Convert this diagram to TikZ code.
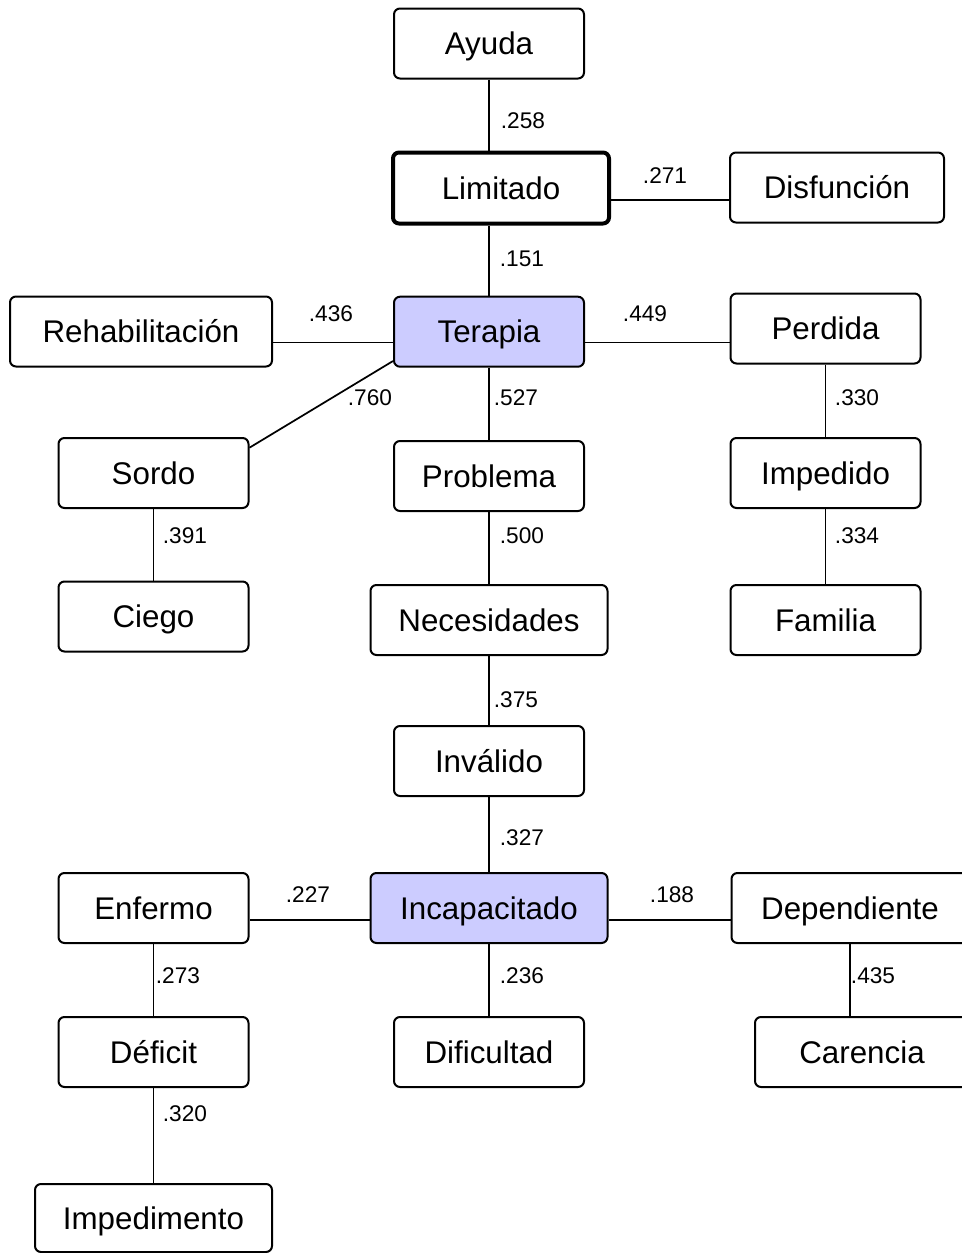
\documentclass[tikz,border=0pt]{standalone}
\usepackage{fontspec}
\setmainfont{Liberation Sans}
\usetikzlibrary{positioning,calc}
\definecolor{hubfill}{HTML}{CCCCFF}

\begin{document}
\begin{tikzpicture}[x=0.75pt,y=-0.75pt,
  term/.style={draw,rounded corners=4.5pt,line width=1.5pt,inner sep=0pt,
    minimum width=142.5pt,minimum height=52.5pt,
    font=\fontsize{23.5}{26}\selectfont,text height=16.8pt,text depth=0pt},
  wide/.style={term,minimum width=177.75pt},
  hub/.style={fill=hubfill},
  weight/.style={inner sep=0pt,font=\fontsize{17}{19}\selectfont,text height=12.2pt,text depth=0pt},
  link/.style={line width=1.3pt}]
\useasboundingbox (0,0) rectangle (961,1253);
% words
\node[term] (ayuda) at (489,43.5) {Ayuda};
\node[term,line width=3pt,minimum width=162pt,minimum height=53.25pt] (limitado) at (501,188) {Limitado};
\node[term,minimum width=160.5pt] (disfuncion) at (837,187.5) {Disfunción};
\node[term,minimum width=196.5pt] (rehab) at (141,331.5) {Rehabilitación};
\node[term,hub] (terapia) at (489,331.7) {Terapia};
\node[term] (perdida) at (825.5,328.5) {Perdida};
\node[term] (sordo) at (153.5,473) {Sordo};
\node[term] (problema) at (489,476) {Problema};
\node[term] (impedido) at (825.5,473) {Impedido};
\node[term] (ciego) at (153.5,616.5) {Ciego};
\node[wide] (necesidades) at (489,620) {Necesidades};
\node[term] (familia) at (825.5,620) {Familia};
\node[term] (invalido) at (489,761) {Inválido};
\node[term] (enfermo) at (153.5,908) {Enfermo};
\node[wide,hub] (incapacitado) at (489,908) {Incapacitado};
\node[wide] (dependiente) at (850,908) {Dependiente};
\node[term] (deficit) at (153.5,1052) {Déficit};
\node[term] (dificultad) at (489,1052) {Dificultad};
\node[term,minimum width=160.5pt] (carencia) at (862,1052) {Carencia};
\node[wide,minimum height=51pt] (impedimento) at (153.5,1218) {Impedimento};
% links
\draw[link] (ayuda.south) -- (ayuda.south |- limitado.north);
\draw[link] (terapia.north) -- (terapia.north |- limitado.south);
\draw[link] ([yshift=-9pt]limitado.east) -- ([yshift=-9pt]limitado.east -| disfuncion.west);
\draw[link] ([yshift=-8pt]terapia.west) -- ([yshift=-8pt]terapia.west -| rehab.east);
\draw[link] ([yshift=-8pt]terapia.east) -- ([yshift=-8pt]terapia.east -| perdida.west);
\draw[link] ([yshift=-8pt]sordo.north east) -- ([yshift=5pt]terapia.south west);
\draw[link] ([yshift=-9pt]incapacitado.west) -- ([yshift=-9pt]incapacitado.west -| enfermo.east);
\draw[link] ([yshift=-9pt]incapacitado.east) -- ([yshift=-9pt]incapacitado.east -| dependiente.west);
\draw[link] (dependiente.south) -- (dependiente.south |- carencia.north);
\path[link]
(terapia) edge (problema)
(problema) edge (necesidades)
(necesidades) edge (invalido)
(invalido) edge (incapacitado)
(incapacitado) edge (dificultad)
(perdida) edge (impedido)
(impedido) edge (familia)
(sordo) edge (ciego)
(enfermo) edge (deficit)
(deficit) edge (impedimento)
;
% weights
\node[weight] (w-ayuda) at (523,120) {.258};
\node[weight] (w-disfuncion) at (665,175) {.271};
\node[weight] (w-limitado) at (522,258) {.151};
\node[weight] (w-rehab) at (331,313) {.436};
\node[weight] (w-perdida) at (645,313) {.449};
\node[weight] (w-sordo) at (370,397) {.760};
\node[weight] (w-problema) at (516,397) {.527};
\node[weight] (w-impedido) at (857,397) {.330};
\node[weight] (w-ciego) at (185,535) {.391};
\node[weight] (w-necesidades) at (522,535) {.500};
\node[weight] (w-familia) at (857,535) {.334};
\node[weight] (w-invalido) at (516,699) {.375};
\node[weight] (w-incapacitado) at (522,837) {.327};
\node[weight] (w-enfermo) at (308,894) {.227};
\node[weight] (w-dependiente) at (672,894) {.188};
\node[weight] (w-deficit) at (178,975) {.273};
\node[weight] (w-dificultad) at (522,975) {.236};
\node[weight] (w-carencia) at (873,975) {.435};
\node[weight] (w-impedimento) at (185,1113) {.320};
\end{tikzpicture}
\end{document}
